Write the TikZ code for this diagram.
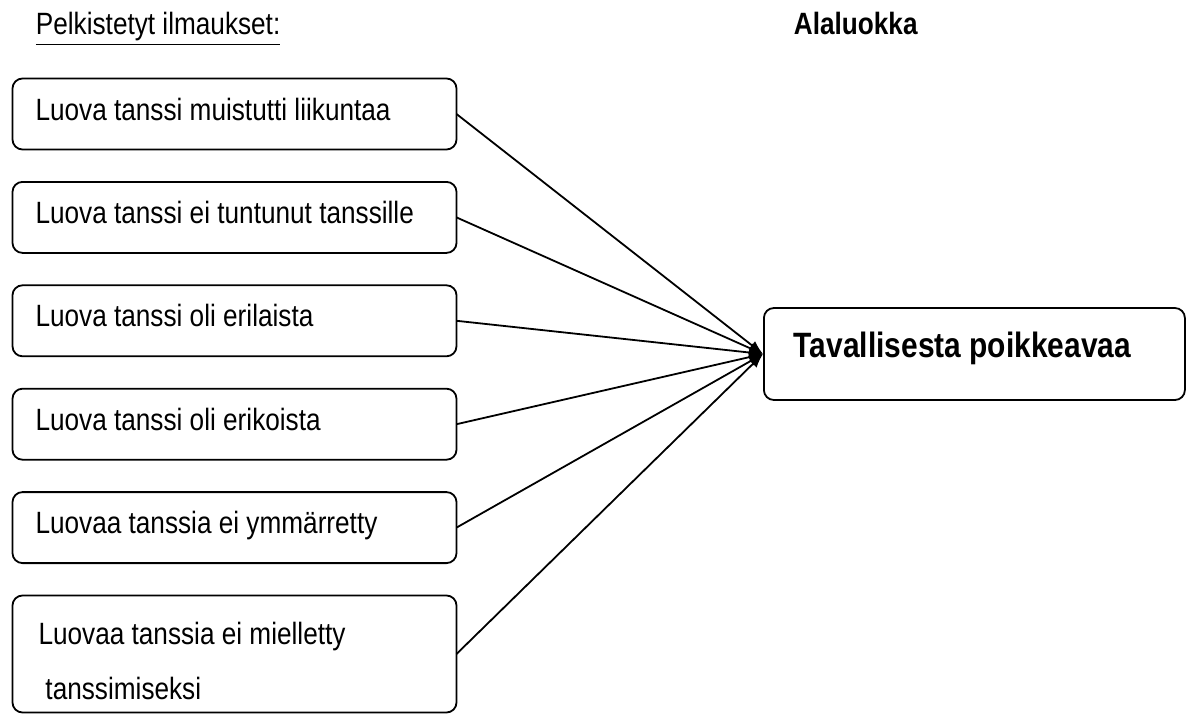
\documentclass[tikz,border=0pt]{standalone}
\usepackage{fontspec}
\setmainfont{Liberation Sans}[FakeStretch=0.85]
\usetikzlibrary{positioning,arrows.meta}

\begin{document}
\begin{tikzpicture}[x=0.5pt, y=-0.5pt, node distance=16.2pt, line width=0.9pt,
    leaf/.style = {draw, rounded corners=5pt, minimum width=222pt, minimum height=35.5pt,
      outer sep=0pt, text width=199pt, inner xsep=11.5pt, align=flush left,
      text height=11pt, text depth=5pt, font=\fontsize{15.4}{27.5}\selectfont},
    sub/.style = {draw, rounded corners=5pt, minimum width=210.5pt, minimum height=46pt,
      text width=180.5pt, inner xsep=15pt, align=flush left, text height=12.5pt, text depth=9.5pt,
      font=\bfseries\fontsize{17.6}{20}\selectfont},
    head/.style = {anchor=base west, inner sep=0pt}]
    \useasboundingbox (0,0) rectangle (1187,717);

    \node[head, font=\fontsize{15.4}{18}\selectfont] (hdr) at (35,35) {\underline{Pelkistetyt ilmaukset:}};
    \node[head, font=\bfseries\fontsize{15.4}{18}\selectfont] (cls) at (793,35) {Alaluokka};

    \node[leaf, anchor=north west] (1) at (12.5,78.5) {Luova tanssi muistutti liikuntaa};
    \node[leaf] (2) [below=of 1] {Luova tanssi ei tuntunut tanssille};
    \node[leaf] (3) [below=of 2] {Luova tanssi oli erilaista};
    \node[leaf] (4) [below=of 3] {Luova tanssi oli erikoista};
    \node[leaf] (5) [below=of 4] {Luovaa tanssia ei ymm\"arretty};
    \node[leaf, text height=, text depth=, minimum height=58.5pt] (6) [below=of 5]
        {\rule{0pt}{18pt}\hspace*{1.5pt}Luovaa tanssia ei mielletty\\ \hspace*{5pt}tanssimiseksi};

    \node[sub, anchor=west] (t) at (763,354) {Tavallisesta poikkeavaa};

    \foreach \k in {1,...,6}
        \path[-{Latex}] (\k.east) edge (t.west);
\end{tikzpicture}
\end{document}
